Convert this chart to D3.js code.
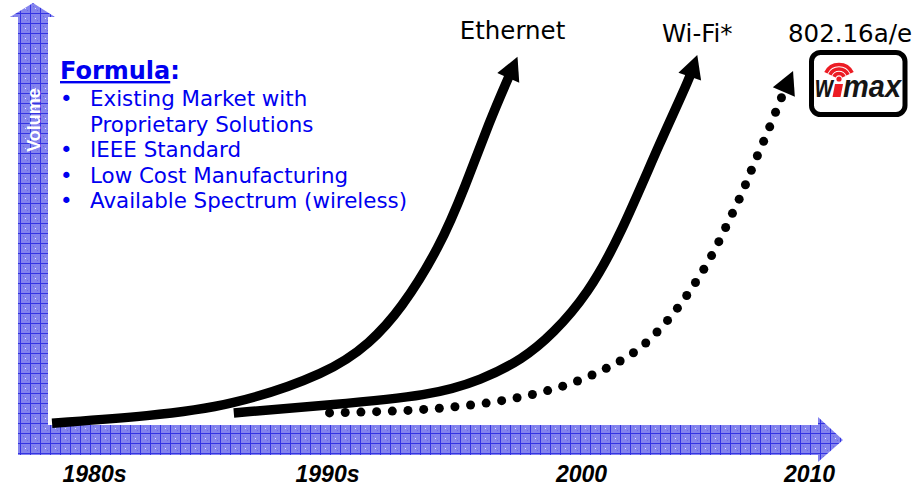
<!DOCTYPE html>
<html>
<head>
<meta charset="utf-8">
<script src="https://cdn.jsdelivr.net/npm/d3@7/dist/d3.min.js"></script>
<style>
body { margin: 0; background: #fff; }
</style>
</head>
<body>
<script>
var width = 915, height = 498;

// x ticks
var tickYears = [1980, 1990, 2000, 2010];
var tickLabels = ["1980s", "1990s", "2000", "2010"];

// series (year, relative volume 0-100)
var ethernetYears  = [1978.2, 1982.4, 1985.8, 1990.1, 1991.7, 1992.9, 1994.45, 1995.43, 1996.42, 1997.1, 1997.5];
var ethernetVolume = [1.8, 3.7, 6.1, 15, 22.9, 31.6, 48.2, 63.9, 81.6, 92.1, 98.2];

var wifiYears  = [1986.0, 1990.1, 1994.1, 1996.1, 1997.7, 1998.9, 2000.3, 2001.7, 2003.5, 2004.8, 2005.1];
var wifiVolume = [4.5, 6.6, 9.0, 13.2, 18.6, 25.3, 35.8, 50.8, 76.3, 92.9, 98.7];

var wimaxYears  = [1990.1, 1993.2, 1995.1, 1997.0, 1999.4, 2001.3, 2002.5, 2003.5, 2004.4, 2005.2, 2005.9, 2006.5, 2007.1, 2007.6, 2008.2, 2008.7, 2009.3];
var wimaxVolume = [4.5, 5, 6.1, 7.6, 11.3, 16.6, 20.8, 26.6, 33.2, 40.3, 47.6, 55.3, 62.6, 70.5, 78.4, 86.3, 94.5];

var seriesNames = ["Ethernet", "Wi-Fi*", "802.16a/e"];

var formulaTitle = "Formula";
var formulaLines = ["Existing Market with", "Proprietary Solutions", "IEEE Standard", "Low Cost Manufacturing", "Available Spectrum (wireless)"];
var formulaBullets = [true, false, true, true, true];

var svg = d3.select("body").append("svg")
    .attr("width", width)
    .attr("height", height)
    .style("display", "block");

svg.append("rect").attr("width", width).attr("height", height).attr("fill", "#fff");

var x = d3.scaleLinear().domain(tickYears).range([94, 327, 581, 809]);
var y = d3.scaleLinear().domain([0, 100]).range([430, 50]);

// blue grid pattern for the axis arrows
var defs = svg.append("defs");
var pat = defs.append("pattern")
    .attr("id", "grid")
    .attr("patternUnits", "userSpaceOnUse")
    .attr("width", 10).attr("height", 10)
    .attr("x", 0).attr("y", 3);
pat.append("rect").attr("width", 10).attr("height", 10).attr("fill", "#8484ee");
pat.append("path").attr("d", "M0,0.5H10M0.5,0V10").attr("stroke", "#3434e2").attr("stroke-width", 1);
pat.append("rect").attr("x", 5).attr("y", 5).attr("width", 1).attr("height", 1).attr("fill", "#fff").attr("opacity", 0.8);
pat.append("rect").attr("x", 3).attr("y", 3).attr("width", 1).attr("height", 1).attr("fill", "#6a6ae4");
pat.append("rect").attr("x", 7).attr("y", 7).attr("width", 1).attr("height", 1).attr("fill", "#6a6ae4");

// axis arrows
var axL = 18, axR = 48, axTop = 3, axBot = 455, xBandTop = 425, xEnd = 843;
var axisPath = d3.path();
axisPath.moveTo(axL, axBot);
axisPath.lineTo(axL, axTop + 14);
axisPath.lineTo(axL - 8, axTop + 14);
axisPath.lineTo((axL + axR) / 2, axTop);
axisPath.lineTo(axR + 7, axTop + 14);
axisPath.lineTo(axR, axTop + 14);
axisPath.lineTo(axR, xBandTop);
axisPath.lineTo(xEnd - 25, xBandTop);
axisPath.lineTo(xEnd - 25, xBandTop - 8);
axisPath.lineTo(xEnd, (xBandTop + axBot) / 2);
axisPath.lineTo(xEnd - 25, axBot + 7);
axisPath.lineTo(xEnd - 25, axBot);
axisPath.closePath();
svg.append("path").attr("d", axisPath.toString()).attr("fill", "url(#grid)");

svg.append("text")
    .attr("transform", "translate(34,120) rotate(-90)")
    .attr("text-anchor", "middle")
    .attr("dominant-baseline", "central")
    .style("font-family", "'Liberation Sans', Arial, sans-serif")
    .style("font-weight", "bold")
    .style("font-size", "18px")
    .attr("fill", "#fff")
    .text("Volume");

// x axis labels
var xAxis = d3.axisBottom(x)
    .tickValues(tickYears)
    .tickFormat(function (d, i) { return tickLabels[i]; })
    .tickSize(0);
var gx = svg.append("g").attr("transform", "translate(0,460)").call(xAxis);
gx.select(".domain").remove();
gx.selectAll("text")
    .attr("y", 22)
    .attr("dy", 0)
    .attr("fill", "#000")
    .style("font-family", "'Liberation Sans', Arial, sans-serif")
    .style("font-weight", "bold")
    .style("font-style", "italic")
    .style("font-size", "23px");

// formula text block
var ftxt = svg.append("text")
    .attr("x", 60).attr("y", 79)
    .style("font-family", "'DejaVu Sans', Verdana, sans-serif")
    .style("font-weight", "bold")
    .style("font-size", "24px")
    .attr("fill", "#0000f0");
ftxt.append("tspan").style("text-decoration", "underline").text(formulaTitle);
ftxt.append("tspan").text(":");

var fl = svg.append("g")
    .style("font-family", "'DejaVu Sans', Verdana, sans-serif")
    .style("font-size", "21.4px")
    .attr("fill", "#0000f0");
formulaLines.forEach(function (t, i) {
    var yy = 106 + i * 25.5;
    if (formulaBullets[i]) {
        fl.append("text").attr("x", 60).attr("y", yy).text("\u2022");
    }
    fl.append("text").attr("x", 90).attr("y", yy).text(t);
});

// curves
var line = d3.line()
    .x(function (d) { return x(d.year); })
    .y(function (d) { return y(d.vol); })
    .curve(d3.curveBasis);

function zip(ys, vs) {
    return ys.map(function (d, i) { return { year: d, vol: vs[i] }; });
}

var series = [
    { name: seriesNames[0], data: zip(ethernetYears, ethernetVolume), dotted: false },
    { name: seriesNames[1], data: zip(wifiYears, wifiVolume), dotted: false },
    { name: seriesNames[2], data: zip(wimaxYears, wimaxVolume), dotted: true }
];

var headLen = 23, headHalf = 12;

series.forEach(function (s) {
    var p = svg.append("path")
        .attr("d", line(s.data))
        .attr("fill", "none")
        .attr("stroke", "#000")
        .attr("stroke-width", 9.5)
        .attr("stroke-linecap", "butt");
    var node = p.node();
    var len = node.getTotalLength();
    var tip = node.getPointAtLength(len);
    var back = node.getPointAtLength(len - 20);
    var dx = tip.x - back.x, dy = tip.y - back.y;
    var dl = Math.sqrt(dx * dx + dy * dy);
    var ux = dx / dl, uy = dy / dl;

    if (s.dotted) {
        p.remove();
        var pts = [];
        for (var l = 0; l < len - headLen - 2; l += 15.7) {
            pts.push(node.getPointAtLength(l));
        }
        svg.selectAll(null).data(pts).enter().append("circle")
            .attr("cx", function (d) { return d.x; })
            .attr("cy", function (d) { return d.y; })
            .attr("r", 4.5)
            .attr("fill", "#000");
    } else {
        p.attr("stroke-dasharray", (len - headLen + 3) + " " + len);
    }

    var bx = tip.x - ux * headLen, by = tip.y - uy * headLen;
    var head = [
        [tip.x, tip.y],
        [bx - uy * headHalf, by + ux * headHalf],
        [bx + uy * headHalf, by - ux * headHalf]
    ];
    svg.append("path")
        .attr("d", "M" + head.join("L") + "Z")
        .attr("fill", "#000");
    s.tip = tip;
});

// series labels
var labelStyle = function (sel) {
    sel.style("font-family", "'DejaVu Sans', Verdana, sans-serif")
        .style("font-size", "24.5px")
        .attr("fill", "#000")
        .attr("text-anchor", "middle");
};
svg.append("text").attr("x", series[0].tip.x - 5).attr("y", 39).text(series[0].name).call(labelStyle);
svg.append("text").attr("x", series[1].tip.x).attr("y", 42).text(series[1].name).call(labelStyle);
svg.append("text").attr("x", 850).attr("y", 42).text(series[2].name).call(labelStyle);

// WiMAX logo box
var logo = svg.append("g");
logo.append("rect")
    .attr("x", 811.5).attr("y", 52.5)
    .attr("width", 93.5).attr("height", 62)
    .attr("rx", 9)
    .attr("fill", "#fff")
    .attr("stroke", "#000")
    .attr("stroke-width", 5);
var cx = 839, cy = 79;
[5.5, 10, 14.5].forEach(function (r) {
    var arc = d3.arc()
        .innerRadius(r - 1.8)
        .outerRadius(r + 1.8)
        .startAngle(-Math.PI * 0.36)
        .endAngle(Math.PI * 0.36);
    logo.append("path")
        .attr("transform", "translate(" + cx + "," + cy + ")")
        .attr("d", arc())
        .attr("fill", "#ec1c24");
});
logo.append("circle").attr("cx", cx).attr("cy", cy).attr("r", 2.6).attr("fill", "#ec1c24");
// red antenna stem standing in for the "i"
logo.append("path")
    .attr("d", "M832.5,97L840.5,97L843,84L835,84Z")
    .attr("fill", "#ec1c24");
var logoFont = function (sel) {
    sel.attr("lengthAdjust", "spacingAndGlyphs")
        .style("font-family", "'Liberation Sans', Arial, sans-serif")
        .style("font-weight", "bold")
        .style("font-style", "italic")
        .style("font-size", "31px")
        .attr("fill", "#151515");
};
logo.append("text").attr("x", 815).attr("y", 97).attr("textLength", 18).text("w").call(logoFont);
logo.append("text").attr("x", 843).attr("y", 97).attr("textLength", 58).text("max").call(logoFont);
</script>
</body>
</html>
